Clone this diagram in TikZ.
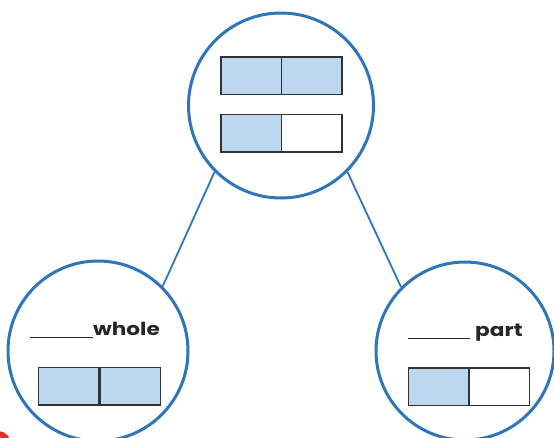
\documentclass[tikz,border=0pt]{standalone}
\usepackage{fontspec}
\setmainfont{Poppins}
\definecolor{ringblue}{RGB}{46,117,186}
\definecolor{cellfill}{RGB}{189,215,238}
\definecolor{cellline}{RGB}{50,50,50}
\definecolor{markred}{RGB}{228,45,45}
\begin{document}
\begin{tikzpicture}[x=1pt,y=-1pt,
  ring/.style={circle,draw=ringblue,line width=3pt,inner sep=0pt,fill=white},
  link/.style={draw=ringblue,line width=1.8pt},
  cell/.style={rectangle,draw=cellline,line width=1.5pt,inner sep=0pt,
               minimum width=60.5pt,minimum height=37.5pt},
  shaded/.style={cell,fill=cellfill},
  blank/.style={cell,fill=white},
  label/.style={inner sep=0pt,font=\bfseries\fontsize{18}{20}\selectfont,text=black!85}]
  \useasboundingbox (0,0) rectangle (554,437);
  % small red mark in the corner
  \fill[markred] (-2,444) circle (13);
  % the three circles
  \node[ring,minimum size=185pt] (top) at (281,105.5) {};
  \node[ring,minimum size=180pt] (left) at (98,351) {};
  \node[ring,minimum size=178pt] (right) at (465,351) {};
  % connectors
  \draw[link] (top.225) -- (left.45);
  \draw[link] (top.315) -- (right.135);
  % top circle: a full bar and a half-shaded bar
  \node[shaded] (t1) at (251,75.5) {};
  \node[shaded] (t2) at (311.5,75.5) {};
  \node[shaded] (t3) at (251,133) {};
  \node[blank]  (t4) at (311.5,133) {};
  % left circle: whole
  \node[label,anchor=base west] (wl) at (30,335)
    {\rule[-3pt]{63pt}{1.3pt}\scalebox{1.2}[1]{whole}};
  \node[shaded] (l1) at (68.5,386) {};
  \node[shaded] (l2) at (130,386) {};
  % right circle: part
  \node[label,anchor=base west] (pl) at (408,336)
    {\rule[-3pt]{62pt}{1.3pt}\hspace{5pt}\scalebox{1.2}[1]{part}};
  \node[shaded] (r1) at (438.5,386.5) {};
  \node[blank]  (r2) at (499,386.5) {};
\end{tikzpicture}
\end{document}
